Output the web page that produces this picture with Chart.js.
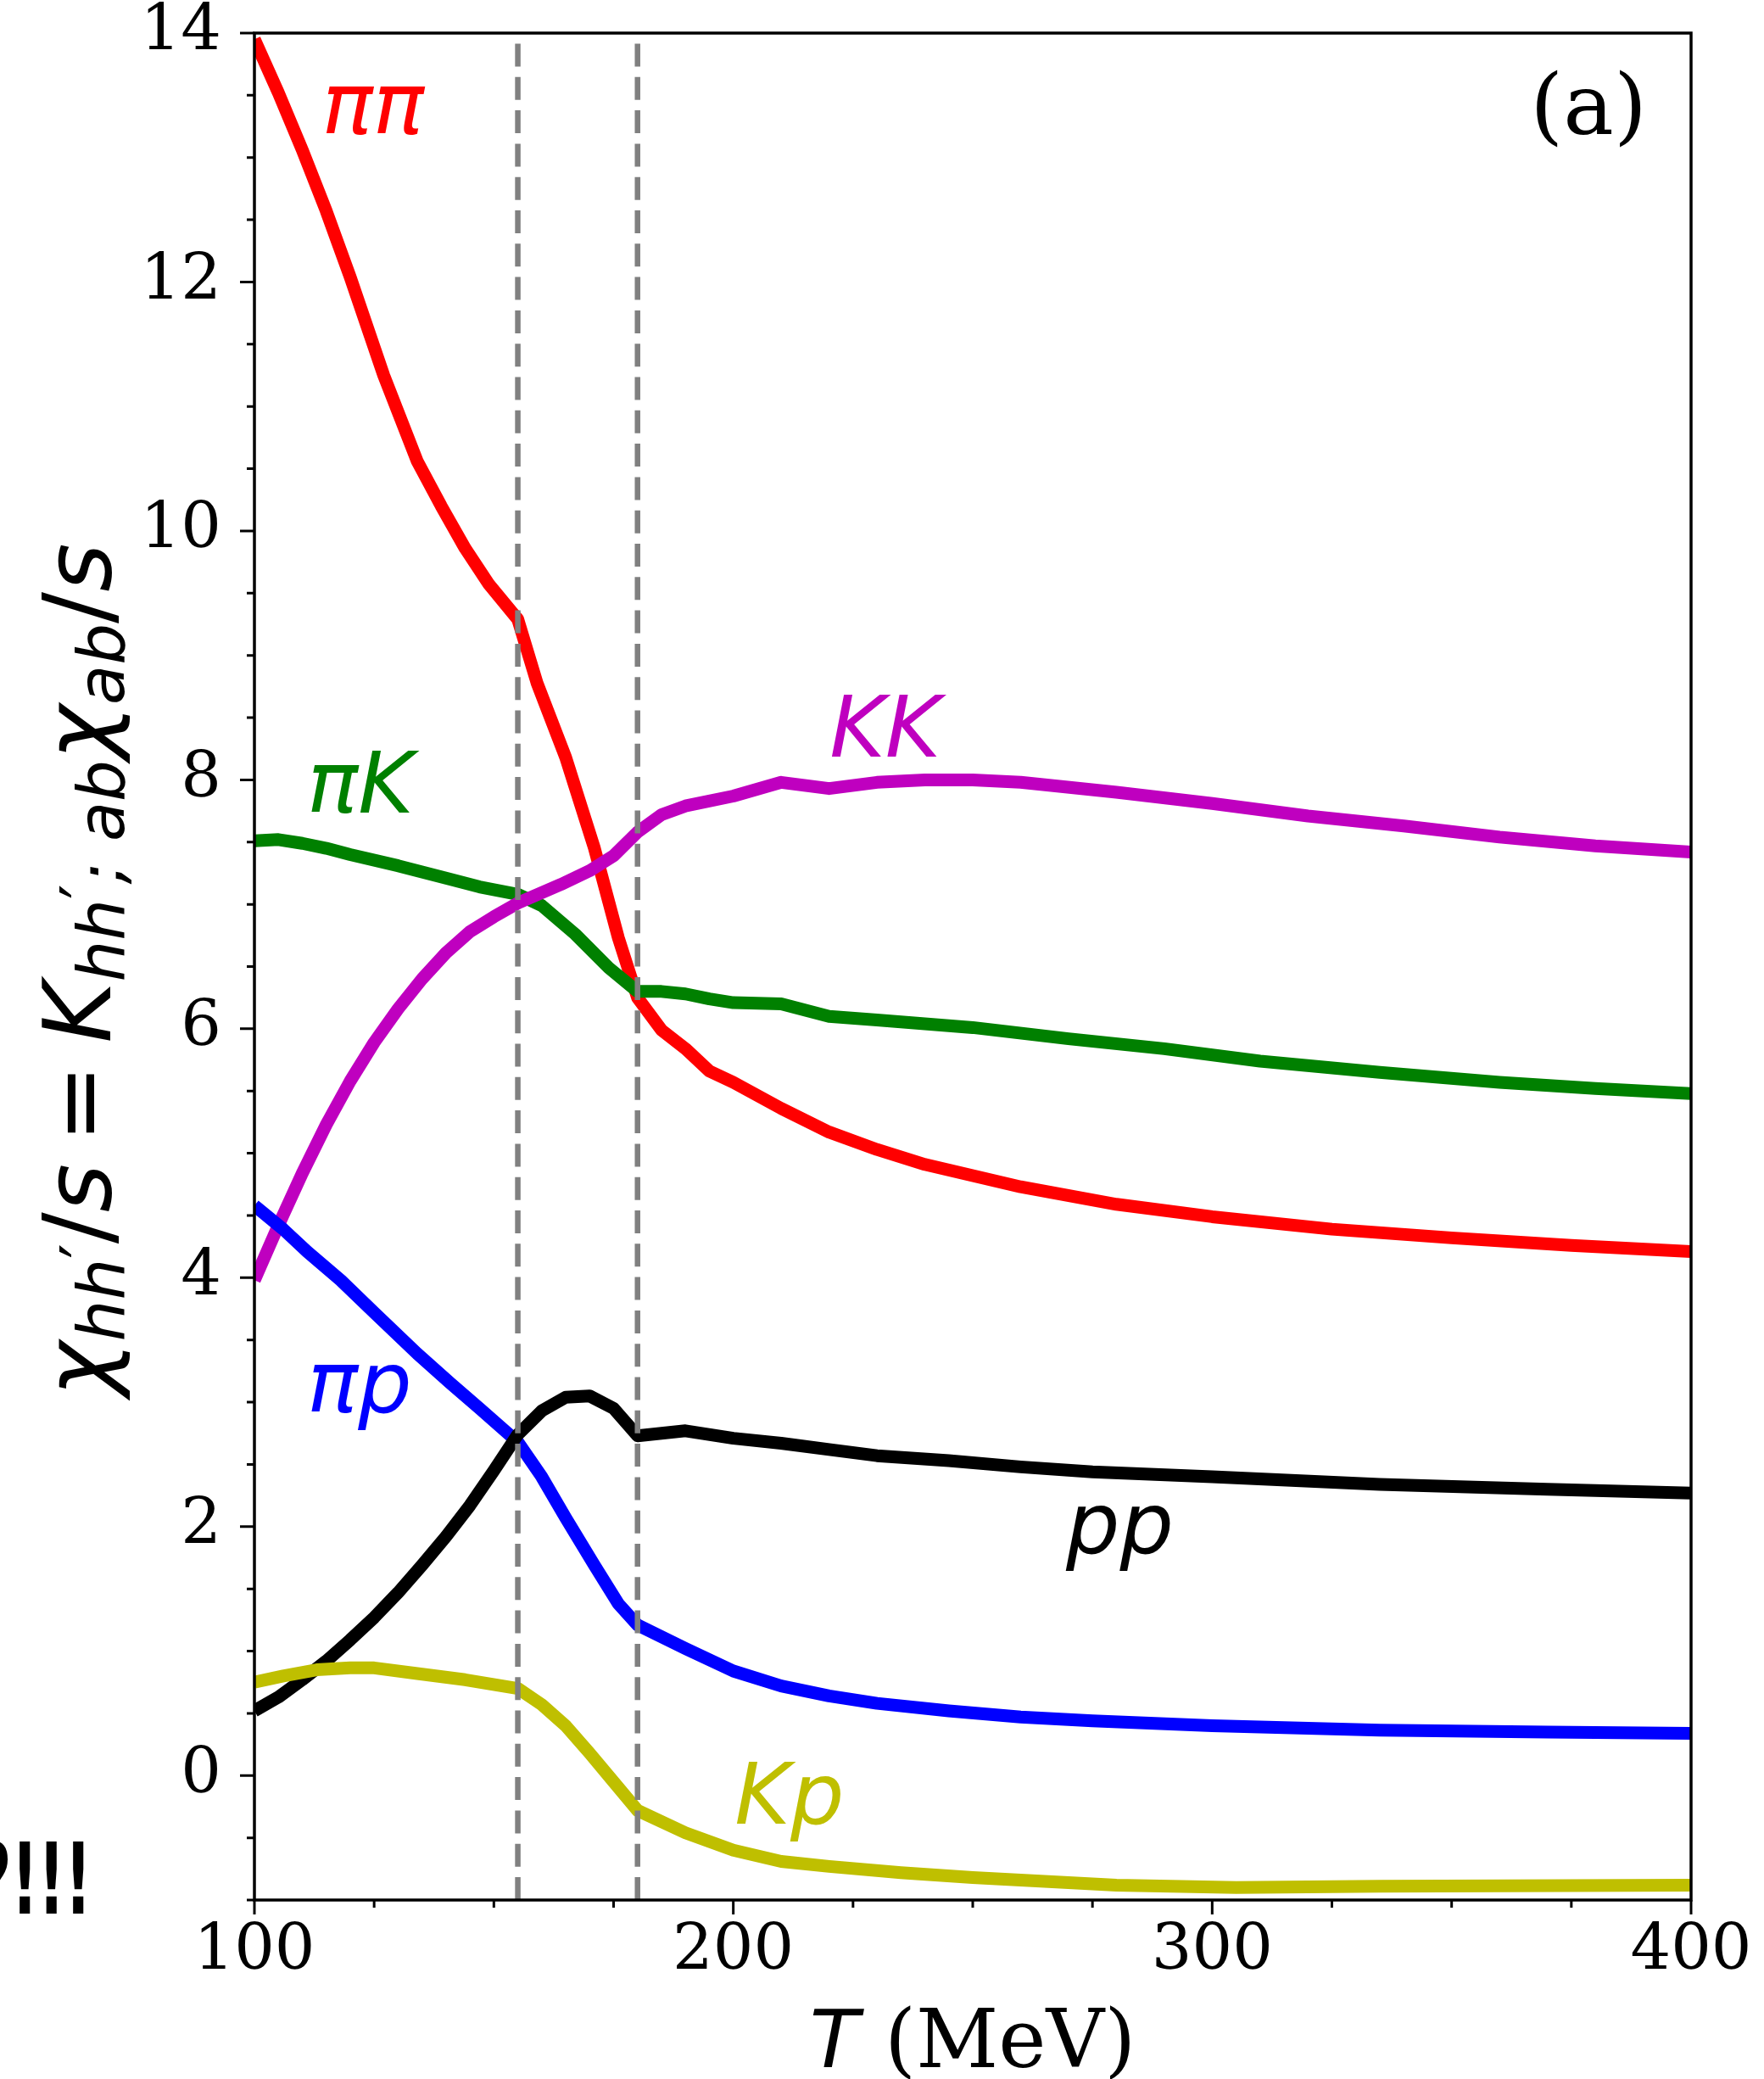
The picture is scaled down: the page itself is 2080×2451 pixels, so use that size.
<!DOCTYPE html>
<html>
<head>
<meta charset="utf-8">
<title>chi_hh'/s vs T</title>
<script src="https://cdn.jsdelivr.net/npm/chart.js@4.4.0/dist/chart.umd.min.js"></script>
<style>
  html, body { margin: 0; padding: 0; background: #fff; }
  canvas { display: block; }
</style>
</head>
<body>
<canvas id="chiChart" width="2080" height="2451"></canvas>
<script>
// T (MeV) grid and chi_hh'/s values
const tPiPi = [100, 105, 110, 115, 120, 127, 134, 139, 144, 149, 155, 159, 165, 171, 176, 180, 185, 190, 195, 200, 210, 220, 230, 240, 250, 260, 280, 300, 325, 350, 375, 400];
const vPiPi = [13.95, 13.52, 13.06, 12.57, 12.04, 11.25, 10.56, 10.2, 9.86, 9.57, 9.29, 8.78, 8.18, 7.45, 6.73, 6.25, 5.99, 5.84, 5.66, 5.57, 5.36, 5.17, 5.03, 4.91, 4.82, 4.73, 4.59, 4.49, 4.39, 4.32, 4.26, 4.21];

const tPiK = [100, 105, 110, 115, 120, 130, 140, 147, 155, 160, 167, 174, 180, 185, 190, 195, 200, 210, 220, 230, 250, 270, 290, 310, 335, 360, 380, 400];
const vPiK = [7.51, 7.52, 7.49, 7.45, 7.40, 7.31, 7.21, 7.14, 7.08, 6.99, 6.76, 6.49, 6.30, 6.30, 6.28, 6.24, 6.21, 6.20, 6.10, 6.07, 6.01, 5.92, 5.84, 5.74, 5.65, 5.57, 5.52, 5.48];

const tKK = [100, 105, 110, 115, 120, 125, 130, 135, 140, 145, 150, 155, 164, 170, 175, 180, 185, 190, 200, 210, 220, 230, 240, 250, 260, 280, 300, 320, 340, 360, 380, 400];
const vKK = [3.98, 4.42, 4.84, 5.23, 5.58, 5.89, 6.16, 6.40, 6.61, 6.78, 6.90, 7.01, 7.16, 7.27, 7.39, 7.58, 7.72, 7.79, 7.87, 7.98, 7.93, 7.98, 8.0, 8.0, 7.98, 7.90, 7.81, 7.71, 7.63, 7.54, 7.47, 7.42];

const tPiP = [100, 106, 111, 118, 125, 134, 141, 147, 155, 160, 165, 171, 176, 180, 190, 200, 210, 220, 230, 245, 260, 275, 300, 335, 370, 400];
const vPiP = [4.58, 4.39, 4.21, 3.98, 3.72, 3.39, 3.15, 2.95, 2.68, 2.40, 2.07, 1.69, 1.38, 1.21, 1.02, 0.84, 0.72, 0.64, 0.58, 0.52, 0.47, 0.44, 0.40, 0.365, 0.35, 0.34];

const tPP = [100, 105, 110, 115, 120, 125, 130, 135, 140, 145, 150, 155, 160, 165, 170, 175, 180, 190, 200, 210, 220, 230, 245, 260, 275, 300, 335, 370, 400];
const vPP = [0.52, 0.63, 0.77, 0.92, 1.09, 1.27, 1.47, 1.69, 1.92, 2.17, 2.45, 2.74, 2.93, 3.04, 3.05, 2.95, 2.73, 2.77, 2.71, 2.67, 2.62, 2.57, 2.53, 2.48, 2.44, 2.40, 2.34, 2.30, 2.27];

const tKP = [100, 106, 113, 120, 125, 134, 144, 155, 160, 165, 170, 175, 180, 190, 200, 210, 220, 235, 250, 280, 305, 335, 400];
const vKP = [0.75, 0.80, 0.85, 0.865, 0.865, 0.82, 0.77, 0.70, 0.57, 0.40, 0.18, -0.05, -0.28, -0.46, -0.60, -0.69, -0.73, -0.78, -0.82, -0.88, -0.90, -0.89, -0.88];

// dashed marker temperatures
const tMarks = [155, 180];

// tick labels
const xMajor = [100, 200, 300, 400];
const yMajor = [0, 2, 4, 6, 8, 10, 12, 14];

function pts(ts, vs) {
  return ts.map((t, i) => ({ x: t, y: vs[i] }));
}

function curve(ts, vs, color, order) {
  return {
    data: pts(ts, vs),
    borderColor: color,
    backgroundColor: color,
    borderWidth: 15,
    pointRadius: 0,
    fill: false,
    clip: 0,
    order: order
  };
}

const datasets = [
  curve(tPiPi, vPiPi, '#ff0000', 6),
  curve(tPiK, vPiK, '#008000', 5),
  curve(tKK, vKK, '#bf00bf', 4),
  curve(tPiP, vPiP, '#0000ff', 3),
  curve(tPP, vPP, '#000000', 2),
  curve(tKP, vKP, '#bfbf00', 1)
];
tMarks.forEach(t => {
  datasets.push({
    data: [{ x: t, y: -1 }, { x: t, y: 14 }],
    borderColor: '#808080',
    borderWidth: 6.5,
    borderDash: [27, 12.3],
    pointRadius: 0,
    clip: 0,
    order: 0
  });
});

// curve labels in data coordinates (left edge, baseline)
const curveLabels = [
  { text: 'ππ', x: 114.1, y: 13.19, color: '#ff0000' },
  { text: 'πK', x: 111.0, y: 7.74, color: '#008000' },
  { text: 'KK', x: 220.1, y: 8.19, color: '#bf00bf' },
  { text: 'πp', x: 111.0, y: 2.92, color: '#0000ff' },
  { text: 'pp', x: 269.5, y: 1.79, color: '#000000' },
  { text: 'Kp', x: 200.3, y: -0.39, color: '#bfbf00' }
];

const SANS = '"DejaVu Sans", "Noto Sans", sans-serif';
const SERIF = '"DejaVu Serif", "Liberation Serif", serif';

// drop the extra room Chart.js keeps for the end tick labels
function noEdgePad(s) {
  s.paddingTop = 0;
  s.paddingBottom = 0;
  s.paddingLeft = 0;
  s.paddingRight = 0;
}

const decor = {
  id: 'decor',
  afterDatasetsDraw(chart) {
    const { ctx, chartArea: a, scales: { x, y } } = chart;
    ctx.save();
    // ticks, outward on left and bottom
    ctx.strokeStyle = '#000';
    ctx.lineWidth = 3;
    ctx.beginPath();
    for (let t = 100; t <= 400; t += 25) {
      const px = x.getPixelForValue(t);
      const len = xMajor.includes(t) ? 17 : 9;
      ctx.moveTo(px, a.bottom);
      ctx.lineTo(px, a.bottom + len);
    }
    for (let v = -1; v <= 14; v += 0.5) {
      const py = y.getPixelForValue(v);
      const len = yMajor.includes(v) ? 17 : 9;
      ctx.moveTo(a.left, py);
      ctx.lineTo(a.left - len, py);
    }
    ctx.stroke();
    // frame
    ctx.lineWidth = 3.5;
    ctx.strokeRect(a.left, a.top, a.right - a.left, a.bottom - a.top);
    ctx.restore();
  },
  afterDraw(chart) {
    const { ctx, chartArea: a, scales: { x, y } } = chart;
    ctx.save();
    ctx.textAlign = 'left';
    ctx.textBaseline = 'alphabetic';

    curveLabels.forEach(l => {
      ctx.fillStyle = l.color;
      ctx.font = 'italic 100px ' + SANS;
      ctx.fillText(l.text, x.getPixelForValue(l.x), y.getPixelForValue(l.y));
    });

    // panel tag
    ctx.fillStyle = '#000';
    ctx.font = '100px ' + SERIF;
    ctx.fillText('(a)', x.getPixelForValue(366.4), y.getPixelForValue(13.19));

    // x title: T (MeV)
    ctx.font = 'italic 95px ' + SANS;
    const wT = ctx.measureText('T').width;
    ctx.font = '95px ' + SERIF;
    const wRest = ctx.measureText(' (MeV)').width;
    let cx = (a.left + a.right) / 2 - (wT + wRest) / 2;
    ctx.font = 'italic 95px ' + SANS;
    ctx.fillText('T', cx, 2437);
    ctx.font = '95px ' + SERIF;
    ctx.fillText(' (MeV)', cx + wT, 2437);

    // y title: chi_hh'/s = K_hh';ab chi_ab/s
    const main = 110, sub = 77;
    const runs = [
      { t: 'χ', st: 'italic', sz: main, dy: 0 },
      { t: 'hh', st: 'italic', sz: sub, dy: 16 },
      { t: '′', st: 'normal', sz: sub, dy: -4 },
      { t: '/', st: 'normal', sz: main, dy: 0 },
      { t: 's', st: 'italic', sz: main, dy: 0 },
      { t: '=', st: 'normal', sz: main, dy: 0, gap: 25 },
      { t: 'K', st: 'italic', sz: main, dy: 0 },
      { t: 'hh', st: 'italic', sz: sub, dy: 16 },
      { t: '′', st: 'normal', sz: sub, dy: -4 },
      { t: '; ab', st: 'italic', sz: sub, dy: 16 },
      { t: 'χ', st: 'italic', sz: main, dy: 0 },
      { t: 'ab', st: 'italic', sz: sub, dy: 16 },
      { t: '/', st: 'normal', sz: main, dy: 0 },
      { t: 's', st: 'italic', sz: main, dy: 0 }
    ];
    let total = 0;
    runs.forEach(r => {
      ctx.font = r.st + ' ' + r.sz + 'px ' + SANS;
      r.w = ctx.measureText(r.t).width;
      total += r.w + 2 * (r.gap || 0);
    });
    ctx.translate(130, (a.top + a.bottom) / 2 + 4);
    ctx.rotate(-Math.PI / 2);
    let px = -total / 2;
    runs.forEach(r => {
      ctx.font = r.st + ' ' + r.sz + 'px ' + SANS;
      px += r.gap || 0;
      ctx.fillText(r.t, px, r.dy);
      px += r.w + (r.gap || 0);
    });
    ctx.restore();

    // stray text fragment at the lower left edge
    ctx.save();
    ctx.fillStyle = '#000';
    ctx.font = 'bold 115px ' + SANS;
    ctx.textAlign = 'right';
    ctx.translate(108, 2256);
    ctx.scale(0.6, 1);
    ctx.fillText('?!!!', 0, 0);
    ctx.restore();
  }
};

new Chart(document.getElementById('chiChart'), {
  type: 'line',
  data: { datasets: datasets },
  options: {
    responsive: false,
    animation: false,
    devicePixelRatio: 1,
    layout: { padding: { left: 0, top: 39, right: 86, bottom: 0 } },
    plugins: { legend: { display: false }, tooltip: { enabled: false } },
    elements: { line: { tension: 0, borderJoinStyle: 'round', borderCapStyle: 'butt' } },
    scales: {
      x: {
        type: 'linear',
        min: 100,
        max: 400,
        afterBuildTicks: s => { s.ticks = xMajor.map(v => ({ value: v })); },
        afterFit: s => { s.height = 211; noEdgePad(s); },
        grid: { display: false, drawTicks: false, tickLength: 0 },
        border: { display: false },
        ticks: {
          color: '#000',
          font: { family: SERIF, size: 75, lineHeight: 1 },
          padding: 24,
          maxRotation: 0,
          autoSkip: false
        }
      },
      y: {
        type: 'linear',
        min: -1,
        max: 14,
        afterBuildTicks: s => { s.ticks = yMajor.map(v => ({ value: v })); },
        afterFit: s => { s.width = 300; noEdgePad(s); },
        grid: { display: false, drawTicks: false, tickLength: 0 },
        border: { display: false },
        ticks: {
          color: '#000',
          font: { family: SERIF, size: 75, lineHeight: 1 },
          padding: 39,
          autoSkip: false
        }
      }
    }
  },
  plugins: [decor]
});
</script>
</body>
</html>
